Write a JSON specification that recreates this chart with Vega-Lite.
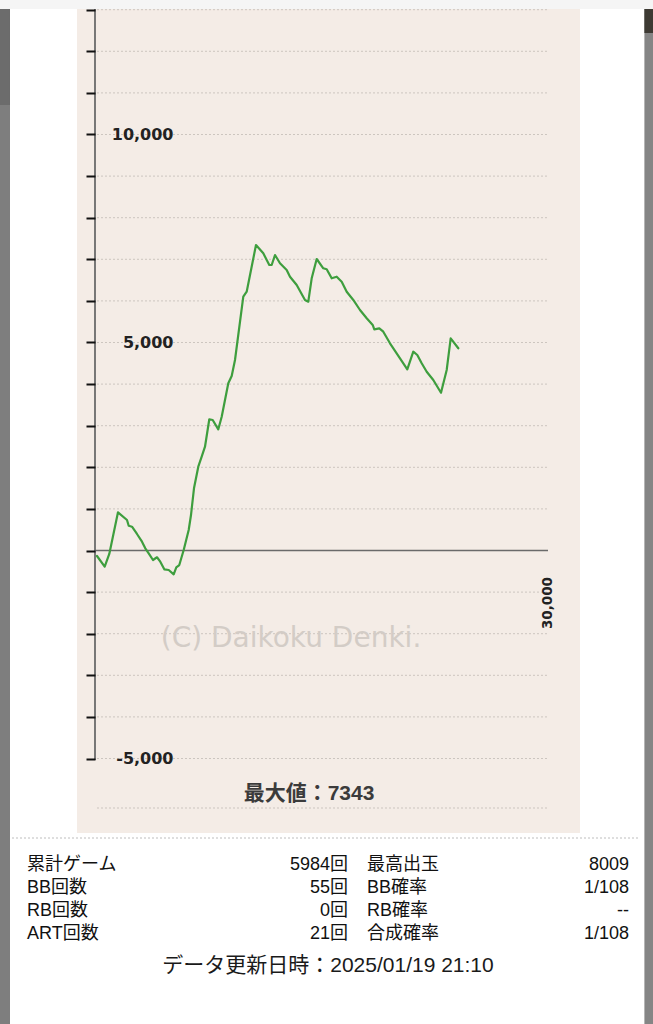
{
  "$schema": "https://vega.github.io/schema/vega-lite/v6.json",
  "width": 653,
  "height": 1024,
  "autosize": {"type": "none"},
  "padding": 0,
  "background": "#ffffff",
  "config": {"view": {"stroke": null}},
  "datasets": {
    "balance": [
      {"game": 132, "diff": -132}, {"game": 642, "diff": -389}, {"game": 947, "diff": -84},
      {"game": 1523, "diff": 918}, {"game": 2119, "diff": 733}, {"game": 2232, "diff": 596},
      {"game": 2450, "diff": 572}, {"game": 2781, "diff": 397}, {"game": 3113, "diff": 212},
      {"game": 3331, "diff": 53}, {"game": 3556, "diff": -67}, {"game": 3841, "diff": -228},
      {"game": 4106, "diff": -163}, {"game": 4324, "diff": -269}, {"game": 4589, "diff": -452},
      {"game": 4881, "diff": -469}, {"game": 5212, "diff": -572}, {"game": 5384, "diff": -404},
      {"game": 5583, "diff": -349}, {"game": 5874, "diff": 12}, {"game": 6205, "diff": 493},
      {"game": 6358, "diff": 853}, {"game": 6556, "diff": 1495}, {"game": 6841, "diff": 2014},
      {"game": 7066, "diff": 2255}, {"game": 7285, "diff": 2495}, {"game": 7570, "diff": 3154},
      {"game": 7795, "diff": 3137}, {"game": 8166, "diff": 2913}, {"game": 8391, "diff": 3216},
      {"game": 8828, "diff": 4019}, {"game": 9053, "diff": 4195}, {"game": 9272, "diff": 4579},
      {"game": 9821, "diff": 6101}, {"game": 10046, "diff": 6221}, {"game": 10662, "diff": 7343},
      {"game": 11146, "diff": 7144}, {"game": 11543, "diff": 6863}, {"game": 11702, "diff": 6863},
      {"game": 11921, "diff": 7103}, {"game": 12252, "diff": 6904}, {"game": 12695, "diff": 6743},
      {"game": 12914, "diff": 6582}, {"game": 13358, "diff": 6382}, {"game": 13907, "diff": 6022},
      {"game": 14126, "diff": 5981}, {"game": 14351, "diff": 6543}, {"game": 14682, "diff": 7007},
      {"game": 15119, "diff": 6784}, {"game": 15344, "diff": 6760}, {"game": 15675, "diff": 6543},
      {"game": 16007, "diff": 6582}, {"game": 16338, "diff": 6462}, {"game": 16669, "diff": 6221},
      {"game": 17106, "diff": 6022}, {"game": 17550, "diff": 5781}, {"game": 17993, "diff": 5582},
      {"game": 18391, "diff": 5421}, {"game": 18497, "diff": 5317}, {"game": 18828, "diff": 5341},
      {"game": 19093, "diff": 5260}, {"game": 19536, "diff": 4981}, {"game": 20199, "diff": 4621},
      {"game": 20682, "diff": 4356}, {"game": 21079, "diff": 4779}, {"game": 21344, "diff": 4699},
      {"game": 21636, "diff": 4500}, {"game": 21967, "diff": 4298}, {"game": 22404, "diff": 4098},
      {"game": 22914, "diff": 3793}, {"game": 23291, "diff": 4339}, {"game": 23556, "diff": 5101},
      {"game": 24060, "diff": 4861}
    ],
    "grid": [
      {"level": 13000}, {"level": 12000}, {"level": 11000}, {"level": 10000}, {"level": 9000},
      {"level": 8000}, {"level": 7000}, {"level": 6000}, {"level": 5000}, {"level": 4000},
      {"level": 3000}, {"level": 2000}, {"level": 1000}, {"level": -1000}, {"level": -2000},
      {"level": -3000}, {"level": -4000}, {"level": -5000}
    ],
    "stats": [
      {"item": "累計ゲーム", "value": "5984回", "item2": "最高出玉", "value2": "8009"},
      {"item": "BB回数", "value": "55回", "item2": "BB確率", "value2": "1/108"},
      {"item": "RB回数", "value": "0回", "item2": "RB確率", "value2": "--"},
      {"item": "ART回数", "value": "21回", "item2": "合成確率", "value2": "1/108"}
    ]
  },
  "resolve": {"scale": {"y": "independent"}},
  "layer": [
    {
      "layer": [
        {
          "data": {"values": [{}]},
          "mark": {"type": "rect", "color": "#f5f5f5"},
          "encoding": {
            "x": {"datum": -6291, "type": "quantitative", "scale": {"domain": [-6291, 36954], "nice": false, "zero": false}},
            "x2": {"datum": 36954},
            "y": {"datum": 13233, "type": "quantitative", "scale": {"domain": [-11382, 13233], "nice": false, "zero": false}},
            "y2": {"datum": 13017}
          }
        },
        {
          "data": {"values": [{}]},
          "mark": {"type": "rect", "color": "#7e7e7e"},
          "encoding": {
            "x": {"datum": -6291, "type": "quantitative", "scale": {"domain": [-6291, 36954], "nice": false, "zero": false}},
            "x2": {"datum": -5629},
            "y": {"datum": 13017, "type": "quantitative", "scale": {"domain": [-11382, 13233], "nice": false, "zero": false}},
            "y2": {"datum": -11382}
          }
        },
        {
          "data": {"values": [{}]},
          "mark": {"type": "rect", "color": "#6c6c6c"},
          "encoding": {
            "x": {"datum": -6291, "type": "quantitative", "scale": {"domain": [-6291, 36954], "nice": false, "zero": false}},
            "x2": {"datum": -5629},
            "y": {"datum": 13017, "type": "quantitative", "scale": {"domain": [-11382, 13233], "nice": false, "zero": false}},
            "y2": {"datum": 10709}
          }
        },
        {
          "data": {"values": [{}]},
          "mark": {"type": "rect", "color": "#858585"},
          "encoding": {
            "x": {"datum": 36384, "type": "quantitative", "scale": {"domain": [-6291, 36954], "nice": false, "zero": false}},
            "x2": {"datum": 36954},
            "y": {"datum": 13017, "type": "quantitative", "scale": {"domain": [-11382, 13233], "nice": false, "zero": false}},
            "y2": {"datum": -11382}
          }
        },
        {
          "data": {"values": [{}]},
          "mark": {"type": "rect", "color": "#3d3a33"},
          "encoding": {
            "x": {"datum": 36384, "type": "quantitative", "scale": {"domain": [-6291, 36954], "nice": false, "zero": false}},
            "x2": {"datum": 36954},
            "y": {"datum": 13017, "type": "quantitative", "scale": {"domain": [-11382, 13233], "nice": false, "zero": false}},
            "y2": {"datum": 12440}
          }
        },
        {
          "data": {"values": [{}]},
          "mark": {"type": "rect", "color": "#f4ece6"},
          "encoding": {
            "x": {"datum": -1192, "type": "quantitative", "scale": {"domain": [-6291, 36954], "nice": false, "zero": false}},
            "x2": {"datum": 32119},
            "y": {"datum": 13017, "type": "quantitative", "scale": {"domain": [-11382, 13233], "nice": false, "zero": false}},
            "y2": {"datum": -6791}
          }
        },
        {
          "data": {"name": "grid"},
          "mark": {"type": "rule", "color": "#ccc5bf", "strokeWidth": 1, "strokeDash": [2, 2]},
          "encoding": {
            "x": {"datum": 132, "type": "quantitative", "scale": {"domain": [-6291, 36954], "nice": false, "zero": false}},
            "x2": {"datum": 30000},
            "y": {"field": "level", "type": "quantitative", "scale": {"domain": [-11382, 13233], "nice": false, "zero": false}}
          }
        },
        {
          "data": {"values": [{}]},
          "mark": {"type": "rule", "color": "#ccc5bf", "strokeWidth": 1, "strokeDash": [2, 2]},
          "encoding": {
            "x": {"datum": 132, "type": "quantitative", "scale": {"domain": [-6291, 36954], "nice": false, "zero": false}},
            "x2": {"datum": 30000},
            "y": {"datum": -6190, "type": "quantitative", "scale": {"domain": [-11382, 13233], "nice": false, "zero": false}}
          }
        },
        {
          "data": {"values": [{}]},
          "mark": {"type": "rule", "color": "#bdbdbd", "strokeWidth": 1, "strokeDash": [2, 2]},
          "encoding": {
            "x": {"datum": -5497, "type": "quantitative", "scale": {"domain": [-6291, 36954], "nice": false, "zero": false}},
            "x2": {"datum": 36093},
            "y": {"datum": -6911, "type": "quantitative", "scale": {"domain": [-11382, 13233], "nice": false, "zero": false}}
          }
        },
        {
          "data": {"values": [{}]},
          "mark": {"type": "rule", "color": "#6a6a6a", "strokeWidth": 1.8},
          "encoding": {
            "x": {"datum": 0, "type": "quantitative", "scale": {"domain": [-6291, 36954], "nice": false, "zero": false}},
            "y": {"datum": 13017, "type": "quantitative", "scale": {"domain": [-11382, 13233], "nice": false, "zero": false}},
            "y2": {"datum": -5036}
          }
        },
        {
          "data": {"values": [{}]},
          "mark": {"type": "rule", "color": "#6a6a6a", "strokeWidth": 1.6},
          "encoding": {
            "x": {"datum": 0, "type": "quantitative", "scale": {"domain": [-6291, 36954], "nice": false, "zero": false}},
            "x2": {"datum": 30000},
            "y": {"datum": 0, "type": "quantitative", "scale": {"domain": [-11382, 13233], "nice": false, "zero": false}}
          }
        },
        {
          "data": {"values": [{"note": "(C) Daikoku Denki."}]},
          "mark": {"type": "text", "font": "DejaVu Sans", "fontSize": 28, "color": "#d3ccc6", "align": "center", "baseline": "middle"},
          "encoding": {
            "text": {"field": "note"},
            "x": {"datum": 12980, "type": "quantitative", "scale": {"domain": [-6291, 36954], "nice": false, "zero": false}},
            "y": {"datum": -2127, "type": "quantitative", "scale": {"domain": [-11382, 13233], "nice": false, "zero": false}}
          }
        },
        {
          "data": {"name": "balance"},
          "mark": {"type": "line", "color": "#3e9e3e", "strokeWidth": 2.2, "strokeJoin": "round", "strokeCap": "round"},
          "encoding": {
            "x": {
              "field": "game", "type": "quantitative",
              "scale": {"domain": [-6291, 36954], "nice": false, "zero": false},
              "axis": {
                "orient": "bottom", "offset": -473.5, "values": [30000],
                "labelExpr": "datum.value === 30000 ? '30,000' : ''",
                "domain": false, "grid": false, "ticks": false,
                "labelAngle": 270, "labelAlign": "right", "labelBaseline": "middle", "labelPadding": 26,
                "labelFont": "DejaVu Sans", "labelFontWeight": "bold", "labelFontSize": 13.5, "labelColor": "#222",
                "labelFlush": false, "labelBound": false, "labelOverlap": false,
                "title": null, "zindex": 1
              }
            },
            "y": {
              "field": "diff", "type": "quantitative",
              "scale": {"domain": [-11382, 13233], "nice": false, "zero": false},
              "axis": {
                "orient": "left", "offset": -95,
                "values": [-5000, -4000, -3000, -2000, -1000, 0, 1000, 2000, 3000, 4000, 5000, 6000, 7000, 8000, 9000, 10000, 11000, 12000, 13000],
                "domain": false, "grid": false, "ticks": true, "tickSize": 9, "tickWidth": 2, "tickColor": "#111",
                "labelExpr": "datum.value === 10000 ? '10,000' : datum.value === 5000 ? '5,000' : datum.value === -5000 ? '-5,000' : ''",
                "labelAlign": "right", "labelBaseline": "middle", "labelPadding": -87,
                "labelFont": "DejaVu Sans", "labelFontWeight": "bold", "labelFontSize": 16, "labelColor": "#222",
                "labelFlush": false, "labelBound": false, "labelOverlap": false,
                "title": null, "zindex": 1
              }
            }
          }
        },
        {
          "data": {"values": [{"note": "最大値：7343"}]},
          "mark": {"type": "text", "font": "Liberation Sans, Noto Sans CJK JP", "fontSize": 21, "fontWeight": "bold", "color": "#3b3b3b", "align": "center", "baseline": "middle"},
          "encoding": {
            "text": {"field": "note"},
            "x": {"datum": 14172, "type": "quantitative", "scale": {"domain": [-6291, 36954], "nice": false, "zero": false}},
            "y": {"datum": -5853, "type": "quantitative", "scale": {"domain": [-11382, 13233], "nice": false, "zero": false}}
          }
        },
        {
          "data": {"values": [{"note": "データ更新日時：2025/01/19 21:10"}]},
          "mark": {"type": "text", "font": "Liberation Sans, Noto Sans CJK JP", "fontSize": 21, "color": "#1a1a1a", "align": "center", "baseline": "middle"},
          "encoding": {
            "text": {"field": "note"},
            "x": {"datum": 15430, "type": "quantitative", "scale": {"domain": [-6291, 36954], "nice": false, "zero": false}},
            "y": {"datum": -9988, "type": "quantitative", "scale": {"domain": [-11382, 13233], "nice": false, "zero": false}}
          }
        }
      ]
    },
    {
      "data": {"name": "stats"},
      "layer": [
        {
          "mark": {"type": "text", "font": "Liberation Sans, Noto Sans CJK JP", "fontSize": 18, "color": "#111", "align": "left", "baseline": "middle"},
          "encoding": {
            "text": {"field": "item"},
            "x": {"datum": -4503, "type": "quantitative", "scale": {"domain": [-6291, 36954], "nice": false, "zero": false}},
            "y": {"field": "item", "type": "ordinal", "sort": null, "scale": {"type": "point", "domain": ["累計ゲーム", "BB回数", "RB回数", "ART回数"], "range": [865, 934], "padding": 0}, "axis": null}
          }
        },
        {
          "mark": {"type": "text", "font": "Liberation Sans, Noto Sans CJK JP", "fontSize": 18, "color": "#111", "align": "right", "baseline": "middle"},
          "encoding": {
            "text": {"field": "value"},
            "x": {"datum": 16755, "type": "quantitative", "scale": {"domain": [-6291, 36954], "nice": false, "zero": false}},
            "y": {"field": "item", "type": "ordinal", "sort": null, "scale": {"type": "point", "domain": ["累計ゲーム", "BB回数", "RB回数", "ART回数"], "range": [865, 934], "padding": 0}, "axis": null}
          }
        },
        {
          "mark": {"type": "text", "font": "Liberation Sans, Noto Sans CJK JP", "fontSize": 18, "color": "#111", "align": "left", "baseline": "middle"},
          "encoding": {
            "text": {"field": "item2"},
            "x": {"datum": 18013, "type": "quantitative", "scale": {"domain": [-6291, 36954], "nice": false, "zero": false}},
            "y": {"field": "item", "type": "ordinal", "sort": null, "scale": {"type": "point", "domain": ["累計ゲーム", "BB回数", "RB回数", "ART回数"], "range": [865, 934], "padding": 0}, "axis": null}
          }
        },
        {
          "mark": {"type": "text", "font": "Liberation Sans, Noto Sans CJK JP", "fontSize": 18, "color": "#111", "align": "right", "baseline": "middle"},
          "encoding": {
            "text": {"field": "value2"},
            "x": {"datum": 35364, "type": "quantitative", "scale": {"domain": [-6291, 36954], "nice": false, "zero": false}},
            "y": {"field": "item", "type": "ordinal", "sort": null, "scale": {"type": "point", "domain": ["累計ゲーム", "BB回数", "RB回数", "ART回数"], "range": [865, 934], "padding": 0}, "axis": null}
          }
        }
      ]
    }
  ]
}
